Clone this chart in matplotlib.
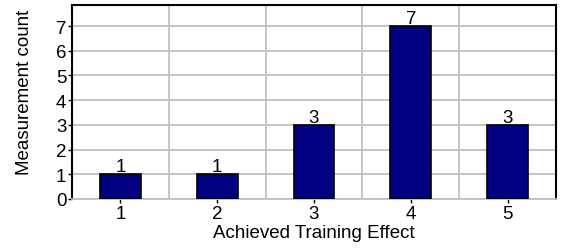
import numpy as np
import matplotlib.pyplot as plt

effects = [1, 2, 3, 4, 5]
counts = [1, 1, 3, 7, 3]

plt.rcParams['font.family'] = ['Liberation Sans', 'DejaVu Sans']
fs = 13.5

fig = plt.figure(figsize=(5.62, 2.51), dpi=100)
ax = fig.add_axes([72/562, 1 - 200/251, 484/562, 194/251])

ax.bar(effects, counts, width=0.42, color='#000080', edgecolor='black', linewidth=1.2, zorder=3)
for x, c in zip(effects, counts):
    ax.text(x, c - 0.04, str(c), ha='center', va='bottom', fontsize=fs, zorder=4)

ax.set_xlim(0.5, 5.5)
ax.set_ylim(0, 7.85)
ax.set_xticks(effects)
ax.set_yticks(range(0, 8))
ax.set_xticks(np.arange(1.5, 5.5, 1), minor=True)
ax.tick_params(axis='both', which='major', labelsize=fs, length=3, width=1, direction='out', pad=1)
ax.tick_params(axis='x', which='minor', length=0)
ax.grid(axis='y', which='major', color='#c0c0c0', linewidth=1.3, zorder=0)
ax.grid(axis='x', which='minor', color='#c0c0c0', linewidth=1.3, zorder=0)

for s in ['left', 'top', 'right']:
    ax.spines[s].set_linewidth(1.5)
    ax.spines[s].set_color('black')
ax.spines['bottom'].set_color('#c0c0c0')
ax.spines['bottom'].set_linewidth(1.3)

ax.set_xlabel('Achieved Training Effect', fontsize=fs, labelpad=2)
ax.set_ylabel('Measurement count', fontsize=fs)
ax.yaxis.set_label_coords(-0.08, 0.555)

fig.savefig('out.png', dpi=100)
